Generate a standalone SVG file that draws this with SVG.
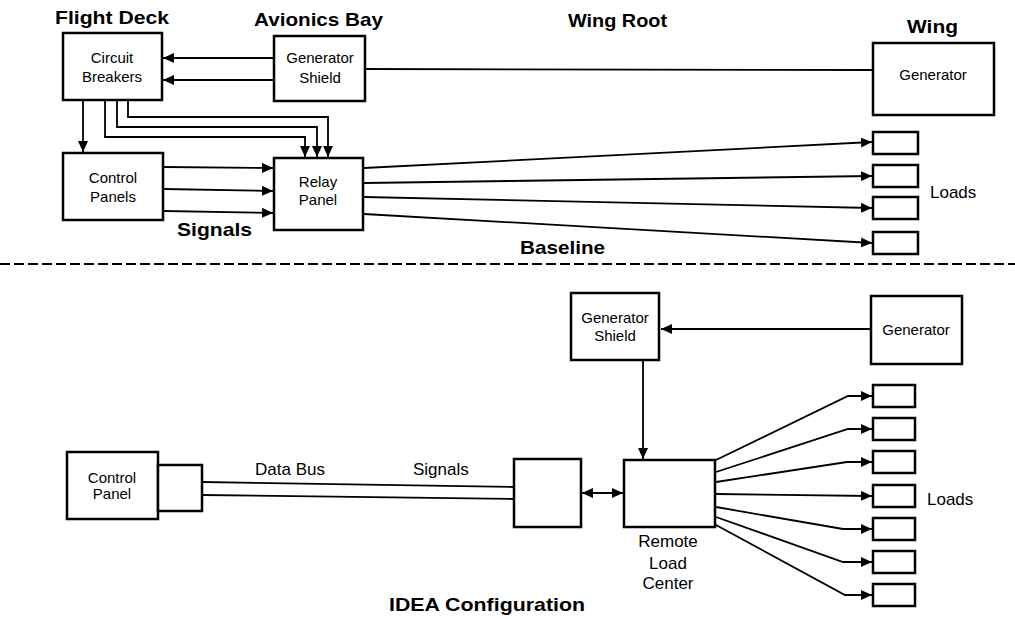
<svg xmlns="http://www.w3.org/2000/svg" width="1015" height="619" viewBox="0 0 1015 619">
<style>
.box{fill:#fff;stroke:#000;stroke-width:2.5}
.ln{fill:none;stroke:#000;stroke-width:1.8}
.t{font-family:"Liberation Sans",Arial,Helvetica,sans-serif;font-size:15px;fill:#000;text-anchor:middle}
.tl{font-family:"Liberation Sans",Arial,Helvetica,sans-serif;font-size:17px;fill:#000}
.h{font-family:"Liberation Sans",Arial,Helvetica,sans-serif;font-size:19px;font-weight:bold;fill:#000}
</style>
<defs>
<marker id="ah" markerUnits="userSpaceOnUse" markerWidth="11" markerHeight="10" refX="11" refY="5" orient="auto-start-reverse" viewBox="0 0 11 10">
<path d="M0,0 L11,5 L0,10 z" fill="#000"/>
</marker>
</defs>
<rect width="1015" height="619" fill="#fff"/>

<!-- headings -->
<text class="h" x="55" y="24" textLength="114" lengthAdjust="spacingAndGlyphs">Flight Deck</text>
<text class="h" x="254" y="26" textLength="129" lengthAdjust="spacingAndGlyphs">Avionics Bay</text>
<text class="h" x="568" y="27" textLength="99" lengthAdjust="spacingAndGlyphs">Wing Root</text>
<text class="h" x="907" y="33" textLength="51" lengthAdjust="spacingAndGlyphs">Wing</text>
<text class="h" x="177" y="236" textLength="75" lengthAdjust="spacingAndGlyphs">Signals</text>
<text class="h" x="520" y="254" textLength="85" lengthAdjust="spacingAndGlyphs">Baseline</text>
<text class="h" x="389" y="611" textLength="196" lengthAdjust="spacingAndGlyphs">IDEA Configuration</text>

<line x1="0" y1="264" x2="1015" y2="264" stroke="#000" stroke-width="2" stroke-dasharray="10,4"/>

<!-- connectors -->
<g id="connectors">
<line class="ln" x1="274" y1="58" x2="163" y2="58" marker-end="url(#ah)"/>
<line class="ln" x1="274" y1="80" x2="163" y2="80" marker-end="url(#ah)"/>
<line class="ln" x1="365" y1="69" x2="872" y2="70"/>
<line class="ln" x1="83" y1="101" x2="83" y2="152" marker-end="url(#ah)"/>
<polyline class="ln" points="105,101 105,137 305,137 305,157" marker-end="url(#ah)"/>
<polyline class="ln" points="117,101 117,127 317,127 317,157" marker-end="url(#ah)"/>
<polyline class="ln" points="128,101 128,117 328,117 328,157" marker-end="url(#ah)"/>
<line class="ln" x1="164" y1="167" x2="273" y2="168" marker-end="url(#ah)"/>
<line class="ln" x1="164" y1="189" x2="273" y2="191" marker-end="url(#ah)"/>
<line class="ln" x1="164" y1="211" x2="273" y2="213" marker-end="url(#ah)"/>
<line class="ln" x1="364" y1="168" x2="872" y2="142" marker-end="url(#ah)"/>
<line class="ln" x1="364" y1="183" x2="872" y2="176" marker-end="url(#ah)"/>
<line class="ln" x1="364" y1="197" x2="872" y2="208" marker-end="url(#ah)"/>
<line class="ln" x1="364" y1="214" x2="872" y2="243" marker-end="url(#ah)"/>

<line class="ln" x1="871" y1="329" x2="661" y2="329" marker-end="url(#ah)"/>
<line class="ln" x1="643" y1="361" x2="643" y2="459" marker-end="url(#ah)"/>
<line class="ln" x1="202" y1="482" x2="514" y2="487"/>
<line class="ln" x1="202" y1="495" x2="514" y2="499"/>
<line class="ln" x1="582" y1="493" x2="623" y2="493" marker-start="url(#ah)" marker-end="url(#ah)"/>
<polyline class="ln" points="716,460 848,396 872,396" marker-end="url(#ah)"/>
<polyline class="ln" points="716,472 848,429 872,429" marker-end="url(#ah)"/>
<polyline class="ln" points="716,482 847,462 872,462" marker-end="url(#ah)"/>
<line class="ln" x1="716" y1="494" x2="872" y2="496" marker-end="url(#ah)"/>
<polyline class="ln" points="716,507 843,529 872,529" marker-end="url(#ah)"/>
<polyline class="ln" points="716,517 843,562 872,562" marker-end="url(#ah)"/>
<polyline class="ln" points="716,525 845,595 872,595" marker-end="url(#ah)"/>
</g>

<!-- baseline nodes -->
<g id="circuit-breakers"><rect class="box" x="63" y="33" width="99" height="67"/><text class="t" x="112" y="63">Circuit</text><text class="t" x="112" y="82">Breakers</text></g>
<g id="generator-shield-top"><rect class="box" x="274" y="36" width="91" height="65"/><text class="t" x="320" y="63">Generator</text><text class="t" x="320" y="83">Shield</text></g>
<g id="generator-top"><rect class="box" x="873" y="43" width="121" height="72"/><text class="t" x="933" y="80">Generator</text></g>
<g id="control-panels"><rect class="box" x="63" y="153" width="100" height="67"/><text class="t" x="113" y="183">Control</text><text class="t" x="113" y="202">Panels</text></g>
<g id="relay-panel"><rect class="box" x="274" y="158" width="89" height="72"/><text class="t" x="318" y="187">Relay</text><text class="t" x="318" y="205">Panel</text></g>
<g id="loads-top">
<rect class="box" x="873" y="132" width="45" height="22"/>
<rect class="box" x="873" y="165" width="45" height="22"/>
<rect class="box" x="873" y="197" width="45" height="22"/>
<rect class="box" x="873" y="232" width="45" height="22"/>
<text class="tl" x="930" y="198">Loads</text>
</g>

<!-- IDEA nodes -->
<g id="generator-shield-low"><rect class="box" x="571" y="293" width="88" height="67"/><text class="t" x="615" y="323">Generator</text><text class="t" x="615" y="341">Shield</text></g>
<g id="generator-low"><rect class="box" x="871" y="296" width="91" height="68"/><text class="t" x="916" y="335">Generator</text></g>
<g id="control-panel"><rect class="box" x="67" y="452" width="91" height="67"/><rect class="box" x="158" y="465" width="44" height="46"/><text class="t" x="112" y="483">Control</text><text class="t" x="112" y="499">Panel</text></g>
<text class="tl" x="255" y="475">Data Bus</text>
<text class="tl" x="413" y="475">Signals</text>
<g id="interface"><rect class="box" x="514" y="459" width="67" height="68"/></g>
<g id="remote-load-center"><rect class="box" x="624" y="460" width="91" height="67"/><text class="tl" x="668" y="547" text-anchor="middle">Remote</text><text class="tl" x="668" y="569" text-anchor="middle">Load</text><text class="tl" x="668" y="589" text-anchor="middle">Center</text></g>
<g id="loads-low">
<rect class="box" x="873" y="385" width="42" height="22"/>
<rect class="box" x="873" y="418" width="42" height="22"/>
<rect class="box" x="873" y="451" width="42" height="22"/>
<rect class="box" x="873" y="485" width="42" height="22"/>
<rect class="box" x="873" y="518" width="42" height="22"/>
<rect class="box" x="873" y="551" width="42" height="22"/>
<rect class="box" x="873" y="584" width="42" height="22"/>
<text class="tl" x="927" y="505">Loads</text>
</g>
</svg>
